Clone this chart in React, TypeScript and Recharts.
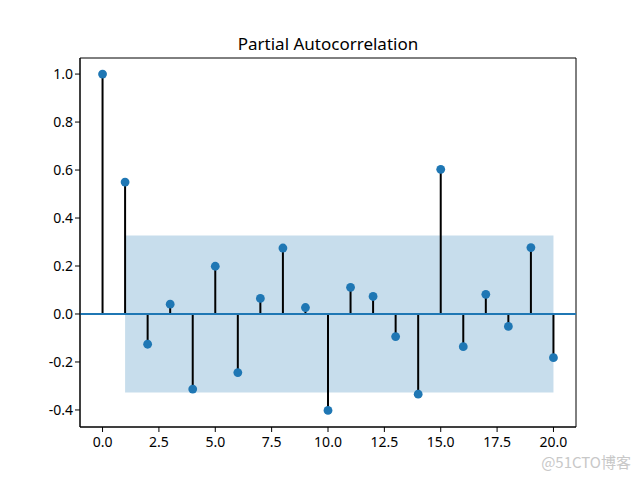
import {
  ComposedChart,
  ReferenceArea,
  ReferenceLine,
  Scatter,
  XAxis,
  YAxis,
} from "recharts";

// lags and partial autocorrelation values
const lags = [0, 1, 2, 3, 4, 5, 6, 7, 8, 9, 10, 11, 12, 13, 14, 15, 16, 17, 18, 19, 20];
const pacfValues = [
  1.0, 0.55, -0.126, 0.041, -0.313, 0.199, -0.244, 0.065, 0.275, 0.027, -0.402,
  0.111, 0.073, -0.094, -0.334, 0.603, -0.136, 0.082, -0.052, 0.277, -0.182,
];
const confLimit = 0.327;
const xTicks = [0, 2.5, 5, 7.5, 10, 12.5, 15, 17.5, 20];
const yTicks = [-0.4, -0.2, 0, 0.2, 0.4, 0.6, 0.8, 1.0];

const X_DOMAIN: [number, number] = [-1, 21];
const Y_DOMAIN: [number, number] = [-0.471, 1.067];
const FONT = "'Noto Sans', 'Open Sans', sans-serif";
const BLUE = "#1f77b4";

const data = lags.map((lag, i) => ({ lag, value: pacfValues[i] }));

const Dot = (props: any) => {
  const { cx, cy } = props;
  if (cx == null || cy == null) return null;
  return <circle cx={cx} cy={cy} r={4.4} fill={BLUE} />;
};

export default function App() {
  const tickStyle = { fill: "#000", fontSize: 14, fontFamily: FONT };
  return (
    <div style={{ position: "absolute", left: 0, top: 0, width: 640, height: 480 }}>
      <ComposedChart
        width={640}
        height={480}
        data={data}
        margin={{ top: 58, right: 64, bottom: 0, left: 0 }}
      >
        <XAxis
          dataKey="lag"
          type="number"
          domain={X_DOMAIN}
          allowDataOverflow
          ticks={xTicks}
          tickFormatter={(v: number) => v.toFixed(1)}
          height={53}
          tickSize={5}
          tickMargin={5}
          tick={tickStyle}
          axisLine={{ stroke: "#000" }}
          tickLine={{ stroke: "#000" }}
        />
        <YAxis
          type="number"
          domain={Y_DOMAIN}
          allowDataOverflow
          ticks={yTicks}
          tickFormatter={(v: number) => v.toFixed(1)}
          width={80}
          tickSize={5}
          tickMargin={2}
          tick={tickStyle}
          axisLine={{ stroke: "#000" }}
          tickLine={{ stroke: "#000" }}
        />
        <ReferenceArea
          x1={lags[1]}
          x2={lags[lags.length - 1]}
          y1={-confLimit}
          y2={confLimit}
          fill={BLUE}
          fillOpacity={0.25}
          stroke="none"
        />
        {lags.map((lag, i) => (
          <ReferenceLine
            key={`stem-${lag}`}
            segment={[
              { x: lag, y: 0 },
              { x: lag, y: pacfValues[i] },
            ]}
            stroke="#000"
            strokeWidth={2}
          />
        ))}
        <ReferenceLine y={0} stroke={BLUE} strokeWidth={2} />
        <Scatter dataKey="value" fill={BLUE} shape={Dot} isAnimationActive={false} />
        <ReferenceArea
          x1={X_DOMAIN[0]}
          x2={X_DOMAIN[1]}
          y1={Y_DOMAIN[0]}
          y2={Y_DOMAIN[1]}
          fill="none"
          stroke="#000"
          strokeWidth={1}
        />
      </ComposedChart>
      <svg
        width={640}
        height={480}
        style={{ position: "absolute", left: 0, top: 0, pointerEvents: "none" }}
      >
        <text x={328} y={50} textAnchor="middle" fontSize={17} fontFamily={FONT} fill="#000">
          Partial Autocorrelation
        </text>
        <text
          x={631}
          y={468}
          textAnchor="end"
          fontSize={15}
          fontFamily="'Noto Sans CJK SC', sans-serif"
          fill="#c8c8c8"
        >
          @51CTO博客
        </text>
      </svg>
    </div>
  );
}
